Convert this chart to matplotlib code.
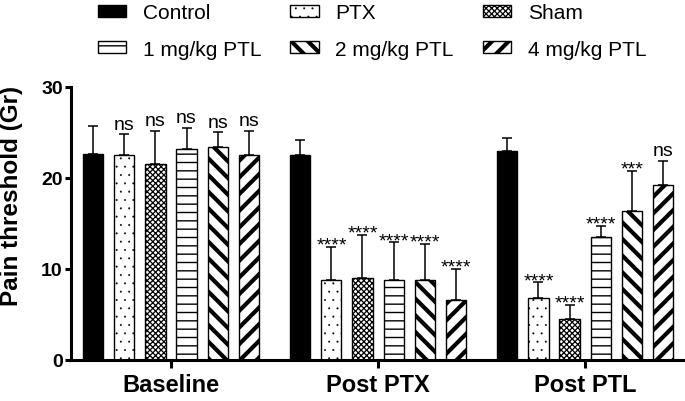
# --- Import libraries ---
import numpy as np
import matplotlib.pyplot as plt

plt.rcParams['font.family'] = ['Liberation Sans', 'DejaVu Sans']

# --- Data ---
groups = ["Baseline", "Post PTX", "Post PTL"]
series = ["Control", "PTX", "Sham", "1 mg/kg PTL", "2 mg/kg PTL", "4 mg/kg PTL"]

control = [22.6, 22.5, 22.9]
ptx = [22.5, 8.7, 6.8]
sham = [21.5, 9.0, 4.5]
ptl_1 = [23.2, 8.8, 13.5]
ptl_2 = [23.4, 8.7, 16.4]
ptl_4 = [22.5, 6.5, 19.2]

control_err = [3.1, 1.7, 1.5]
ptx_err = [2.3, 3.7, 1.7]
sham_err = [3.7, 4.7, 1.5]
ptl_1_err = [2.3, 4.1, 1.2]
ptl_2_err = [1.6, 4.0, 4.4]
ptl_4_err = [2.7, 3.5, 2.7]

control_sig = ["", "", ""]
ptx_sig = ["ns", "****", "****"]
sham_sig = ["ns", "****", "****"]
ptl_1_sig = ["ns", "****", "****"]
ptl_2_sig = ["ns", "****", "***"]
ptl_4_sig = ["ns", "****", "ns"]

means = [control, ptx, sham, ptl_1, ptl_2, ptl_4]
errs = [control_err, ptx_err, sham_err, ptl_1_err, ptl_2_err, ptl_4_err]
sigs = [control_sig, ptx_sig, sham_sig, ptl_1_sig, ptl_2_sig, ptl_4_sig]

# --- Styles ---
faces = ["black", "white", "white", "white", "white", "white"]
hatches = [None, "..", "xxxxxx", "--", "\\\\", "//"]
hatch_lw = [1.0, 0.2, 0.9, 1.0, 3.0, 3.0]

x = np.arange(len(groups))
pitch = 0.15
width = 0.097

fig = plt.figure(figsize=(6.85, 4.02), dpi=100)
ax = fig.add_axes([71/685, 1 - 360.5/402, (684 - 71)/685, (360.5 - 88)/402])

handles = []
for i, name in enumerate(series):
    plt.rcParams['hatch.linewidth'] = hatch_lw[i]
    pos = x + (i - 2.5) * pitch
    bars = ax.bar(pos, means[i], width=width, color=faces[i], edgecolor="black",
                  linewidth=1.0, hatch=hatches[i], label=name, zorder=2,
                  yerr=[np.zeros(len(groups)), errs[i]],
                  error_kw=dict(elinewidth=1.1, capsize=3.5, capthick=1.1,
                                ecolor="black", zorder=1))
    for p in bars.patches:
        if hasattr(p, "set_hatch_linewidth"):
            p.set_hatch_linewidth(hatch_lw[i])
    handles.append(bars)
    for xi, m, e, s in zip(pos, means[i], errs[i], sigs[i]):
        if s == "ns":
            ax.annotate(s, (xi, m + e), xytext=(0, 4), textcoords="offset points",
                        ha="center", va="baseline", fontsize=14, annotation_clip=False)
        elif s:
            ax.annotate(s, (xi, m + e), xytext=(0, -2), textcoords="offset points",
                        ha="center", va="baseline", fontsize=14, annotation_clip=False)

ax.set_xlim(-0.483, 2.478)
ax.set_ylim(0, 30)
ax.set_yticks([0, 10, 20, 30])
ax.set_xticks(x)
ax.set_xticklabels(groups, fontsize=17, fontweight="bold")
for lab in ax.get_yticklabels():
    lab.set_fontsize(14)
    lab.set_fontweight("bold")

for side in ["top", "right"]:
    ax.spines[side].set_visible(False)
for side in ["left", "bottom"]:
    ax.spines[side].set_linewidth(2.2)
ax.tick_params(axis="y", length=4, width=2.2, pad=2)
ax.tick_params(axis="x", length=6, width=2.2, pad=4)

fig.text(12/685, 1 - 196/402, "Pain threshold (Gr)", rotation=90, fontsize=17.5,
         fontweight="bold", ha="center", va="center")

order = [0, 3, 1, 4, 2, 5]
leg = fig.legend([handles[k] for k in order], [series[k] for k in order], ncol=3,
                 loc="upper left", bbox_to_anchor=(98/685, 1 - 4/402), frameon=False,
                 fontsize=15, handlelength=1.35, handleheight=0.5, handletextpad=0.8,
                 columnspacing=1.4, labelspacing=0.85, borderpad=0, borderaxespad=0)
for h, k in zip(leg.legend_handles, order):
    if hasattr(h, "set_hatch_linewidth"):
        h.set_hatch_linewidth(hatch_lw[k])

fig.savefig("out.png", dpi=100)
